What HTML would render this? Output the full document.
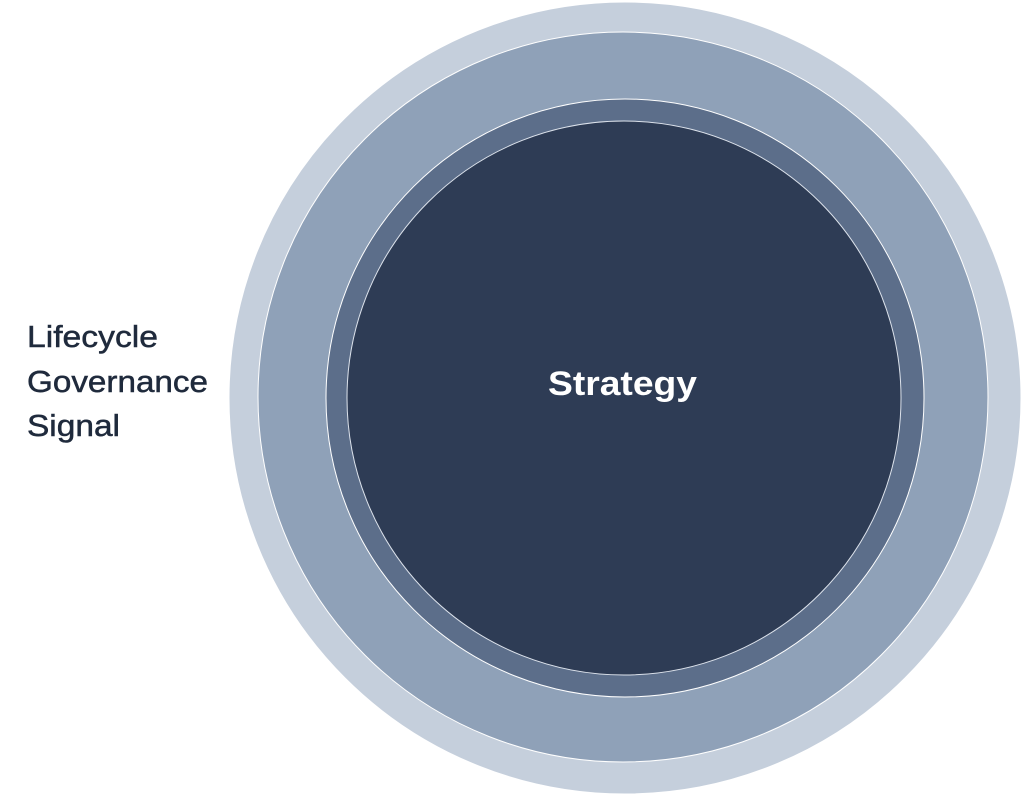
<!DOCTYPE html>
<html><head><meta charset="utf-8"><style>
html,body{margin:0;padding:0;background:#fff;width:1024px;height:795px;overflow:hidden}
</style></head><body>
<svg width="1024" height="795" viewBox="0 0 1024 795" xmlns="http://www.w3.org/2000/svg">
<circle cx="625" cy="398" r="396" fill="#c5cfdc" stroke="#fff" stroke-width="1"/>
<circle cx="623" cy="397" r="365" fill="#8fa1b8" stroke="#fff" stroke-width="1"/>
<circle cx="625" cy="398" r="299" fill="#5c6e8a" stroke="#fff" stroke-width="1"/>
<circle cx="624" cy="398" r="277" fill="#2e3c55" stroke="#dde3ec" stroke-width="1"/>
<text x="548" y="395" textLength="149" lengthAdjust="spacingAndGlyphs" font-family="Liberation Sans, sans-serif" font-weight="bold" font-size="34" fill="#fff">Strategy</text>
<g font-family="Liberation Sans, sans-serif" font-size="31" fill="#1f2a3c" stroke="#1f2a3c" stroke-width="0.5">
<text x="27" y="347" textLength="131" lengthAdjust="spacingAndGlyphs">Lifecycle</text>
<text x="27" y="392" textLength="181" lengthAdjust="spacingAndGlyphs">Governance</text>
<text x="27" y="436" textLength="93" lengthAdjust="spacingAndGlyphs">Signal</text>
</g>
</svg>
</body></html>
